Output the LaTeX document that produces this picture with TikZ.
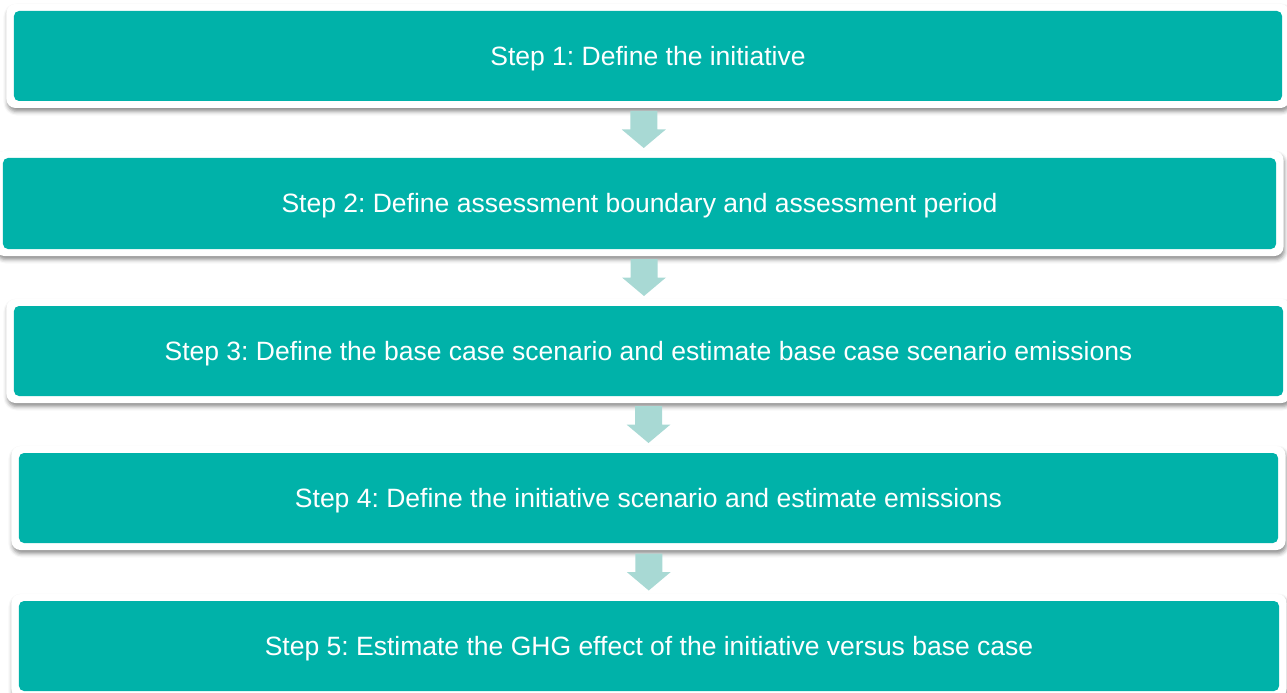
\documentclass[tikz,border=0pt]{standalone}
\usepackage{fontspec}
\setmainfont{Liberation Sans}
\usetikzlibrary{shadows.blur,calc}
\definecolor{tealbox}{HTML}{00B2A9}
\definecolor{arrowc}{HTML}{A8D9D4}
\frenchspacing
\begin{document}
\begin{tikzpicture}[x=1bp,y=-1bp,
  frame/.style={fill=white, rounded corners=9bp, inner sep=0pt, draw=none,
    blur shadow={shadow xshift=1bp, shadow yshift=-3.5bp, shadow blur radius=4bp, shadow opacity=45}},
  stepbox/.style={fill=tealbox, rounded corners=5bp, text=white, inner sep=0pt,
    text height=19bp, text depth=0bp,
    font=\fontsize{26.6}{32}\selectfont},
  blockarrow/.style={fill=arrowc}]
\useasboundingbox (0,0) rectangle (1287,693);
\clip (0,0) rectangle (1287,693);

% frames
\node[frame, minimum width=1283bp, minimum height=104bp] (f1) at (648,56) {};
\node[frame, minimum width=1288bp, minimum height=105bp] (f2) at (639.5,203.5) {};
\node[frame, minimum width=1284bp, minimum height=104bp] (f3) at (648.5,351) {};
\node[frame, minimum width=1274bp, minimum height=104bp] (f4) at (648.5,498) {};
\node[frame, minimum width=1275bp, minimum height=104bp] (f5) at (649,646) {};

% steps
\node[stepbox, minimum width=1268bp, minimum height=90bp] (s1) at (f1.center) {Step 1: Define the initiative};
\node[stepbox, minimum width=1273bp, minimum height=91bp] (s2) at (f2.center) {Step 2: Define assessment boundary and assessment period};
\node[stepbox, minimum width=1269bp, minimum height=90bp] (s3) at (f3.center) {Step 3: Define the base case scenario and estimate base case scenario emissions};
\node[stepbox, minimum width=1259bp, minimum height=90bp] (s4) at (f4.center) {Step 4: Define the initiative scenario and estimate emissions};
\node[stepbox, minimum width=1260bp, minimum height=90bp] (s5) at (f5.center) {Step 5: Estimate the GHG effect of the initiative versus base case};

% arrows
\coordinate (a1) at ($(f1.south)!0.5!(f2.north)$);
\coordinate (a2) at ($(f2.south)!0.5!(f3.north)$);
\coordinate (a3) at ($(f3.south)!0.5!(f4.north)$);
\coordinate (a4) at ($(f4.south)!0.5!(f5.north)$);
\foreach \a in {a1,a2,a3,a4}{
  \fill[blockarrow, shift={(\a)}] (-13.5,-18.5) -- (13.5,-18.5) -- (13.5,0) -- (22,0)
    -- (0,18.5) -- (-22,0) -- (-13.5,0) -- cycle;
}
\end{tikzpicture}
\end{document}
